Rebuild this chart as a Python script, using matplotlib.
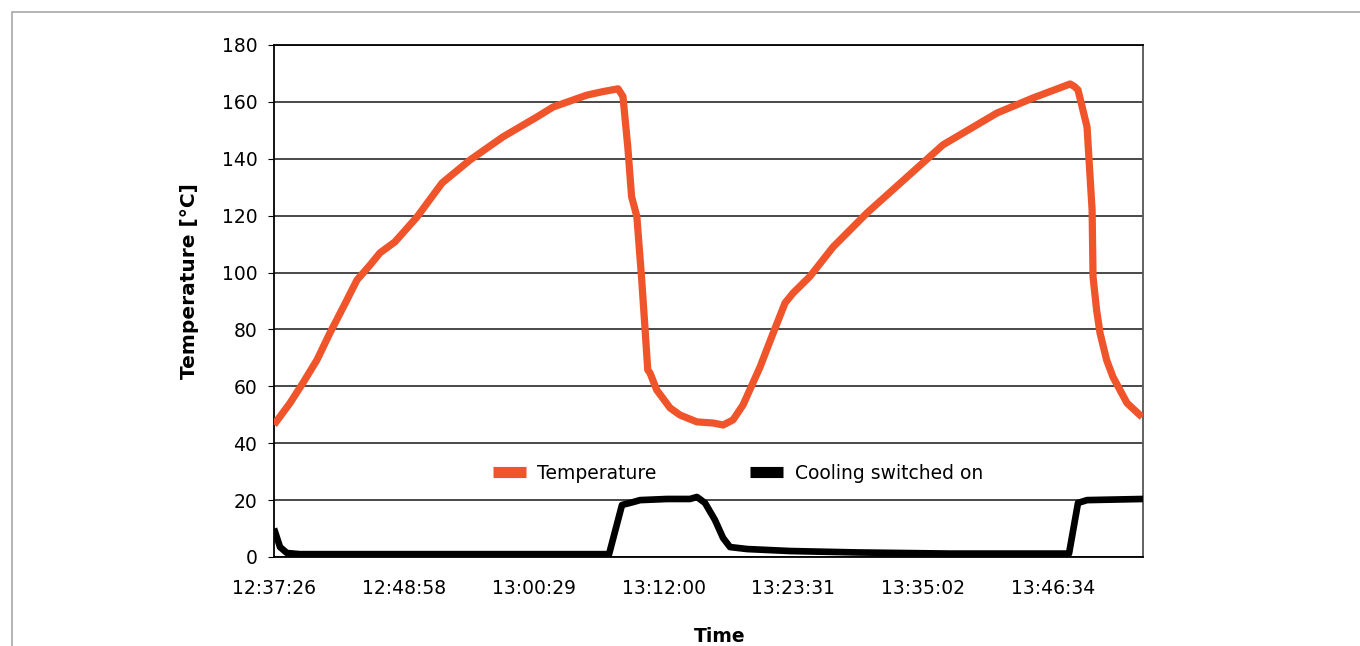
import matplotlib
matplotlib.use("Agg")
import matplotlib.pyplot as plt
from matplotlib.patches import Rectangle

plt.rcParams['font.family'] = ['DejaVu Sans']

# elapsed seconds from 12:37:26
tick_seconds = [0, 692, 1383, 2074, 2765, 3456, 4148]
tick_labels = ["12:37:26", "12:48:58", "13:00:29", "13:12:00", "13:23:31", "13:35:02", "13:46:34"]

temp_t = [0, 85, 154, 229, 298, 370, 442, 512, 564, 644, 761, 895, 1044, 1219, 1400, 1486, 1667, 1750, 1832,
          1858, 1884, 1904, 1932, 1958, 1976, 1990, 2002, 2038, 2109, 2162, 2252, 2339, 2391, 2444, 2497,
          2588, 2650, 2721, 2764, 2853, 2977, 3158, 3371, 3562, 3850, 4042, 4239, 4262, 4281, 4329, 4356,
          4361, 4380, 4398, 4433, 4467, 4542, 4622]
temp_v = [46.5, 54.1, 61.2, 69.3, 78.8, 88.0, 97.4, 102.7, 106.9, 110.8, 119.5, 131.5, 139.6, 147.7, 154.7, 158.2, 162.4, 163.6, 164.6,
          161.9, 144.0, 126.7, 119.7, 97.4, 79.8, 65.8, 64.7, 58.7, 52.4, 49.9, 47.5, 47.1, 46.4, 48.2, 53.4,
          66.8, 77.4, 89.3, 92.8, 98.6, 109.0, 121.0, 133.6, 144.9, 156.1, 161.4, 166.3, 165.4, 164.2, 151.2, 122.0,
          98.5, 86.8, 78.8, 69.3, 63.3, 54.1, 49.2]

cool_t = [0, 32, 69, 138, 1784, 1853, 1912, 1949, 2093, 2215, 2252, 2295, 2348, 2391, 2428,
          2519, 2748, 3104, 3600, 4233, 4281, 4329, 4627]
cool_v = [10.0, 3.5, 1.4, 1.0, 1.0, 18.3, 19.3, 20.0, 20.4, 20.4, 21.1, 19.0, 13.0, 6.7, 3.5,
          2.8, 2.1, 1.6, 1.2, 1.2, 19.0, 20.0, 20.4]

y_ticks = list(range(0, 181, 20))

ORANGE = '#F0542A'

fig = plt.figure(figsize=(13.6, 6.46), dpi=100)
# outer frame (partially visible)
fig.patches.append(Rectangle((12 / 1360, -0.1), 1.2, 1 - 12 / 646 + 0.1, transform=fig.transFigure,
                             fill=False, edgecolor='#a8a8a8', linewidth=1.2))

ax = fig.add_axes([274 / 1360, 1 - 557 / 646, (1143 - 274) / 1360, (557 - 45) / 646])

ax.plot(temp_t, temp_v, color=ORANGE, lw=5.2, solid_joinstyle='round', solid_capstyle='butt',
        label='Temperature', zorder=3)
ax.plot(cool_t, cool_v, color='black', lw=4.8, solid_joinstyle='round', solid_capstyle='butt',
        label='Cooling switched on', zorder=3)

ax.set_xlim(0, 4627)
ax.set_ylim(0, 180)
ax.set_yticks(y_ticks)
ax.set_xticks(tick_seconds)
ax.set_xticklabels(tick_labels)
ax.yaxis.grid(True, color='#3a3a3a', lw=1.3)
ax.set_axisbelow(True)

ax.tick_params(axis='x', length=0, pad=16, labelsize=13.5, colors='black')
ax.tick_params(axis='y', length=4, pad=8, labelsize=13.5, colors='black')

for s in ['left', 'bottom', 'top']:
    ax.spines[s].set_color('black')
    ax.spines[s].set_linewidth(1.3)
ax.spines['right'].set_color('#555555')
ax.spines['right'].set_linewidth(1.3)

ax.set_ylabel('Temperature [°C]', fontsize=14.5, fontweight='bold', va='center')
ax.yaxis.set_label_coords((189 - 274) / 869, (557 - 281) / 512)
ax.set_xlabel('Time', fontsize=13.5, fontweight='bold', va='center')
ax.xaxis.set_label_coords((720 - 274) / 869, -(636 - 557) / 512)

leg = ax.legend(loc='center', bbox_to_anchor=(0.534, 0.164), ncol=2, frameon=False,
                fontsize=13.5, handlelength=1.75, handletextpad=0.6, columnspacing=5.0)
for h in leg.legend_handles:
    h.set_linewidth(8)

fig.savefig('out.png', dpi=100)
